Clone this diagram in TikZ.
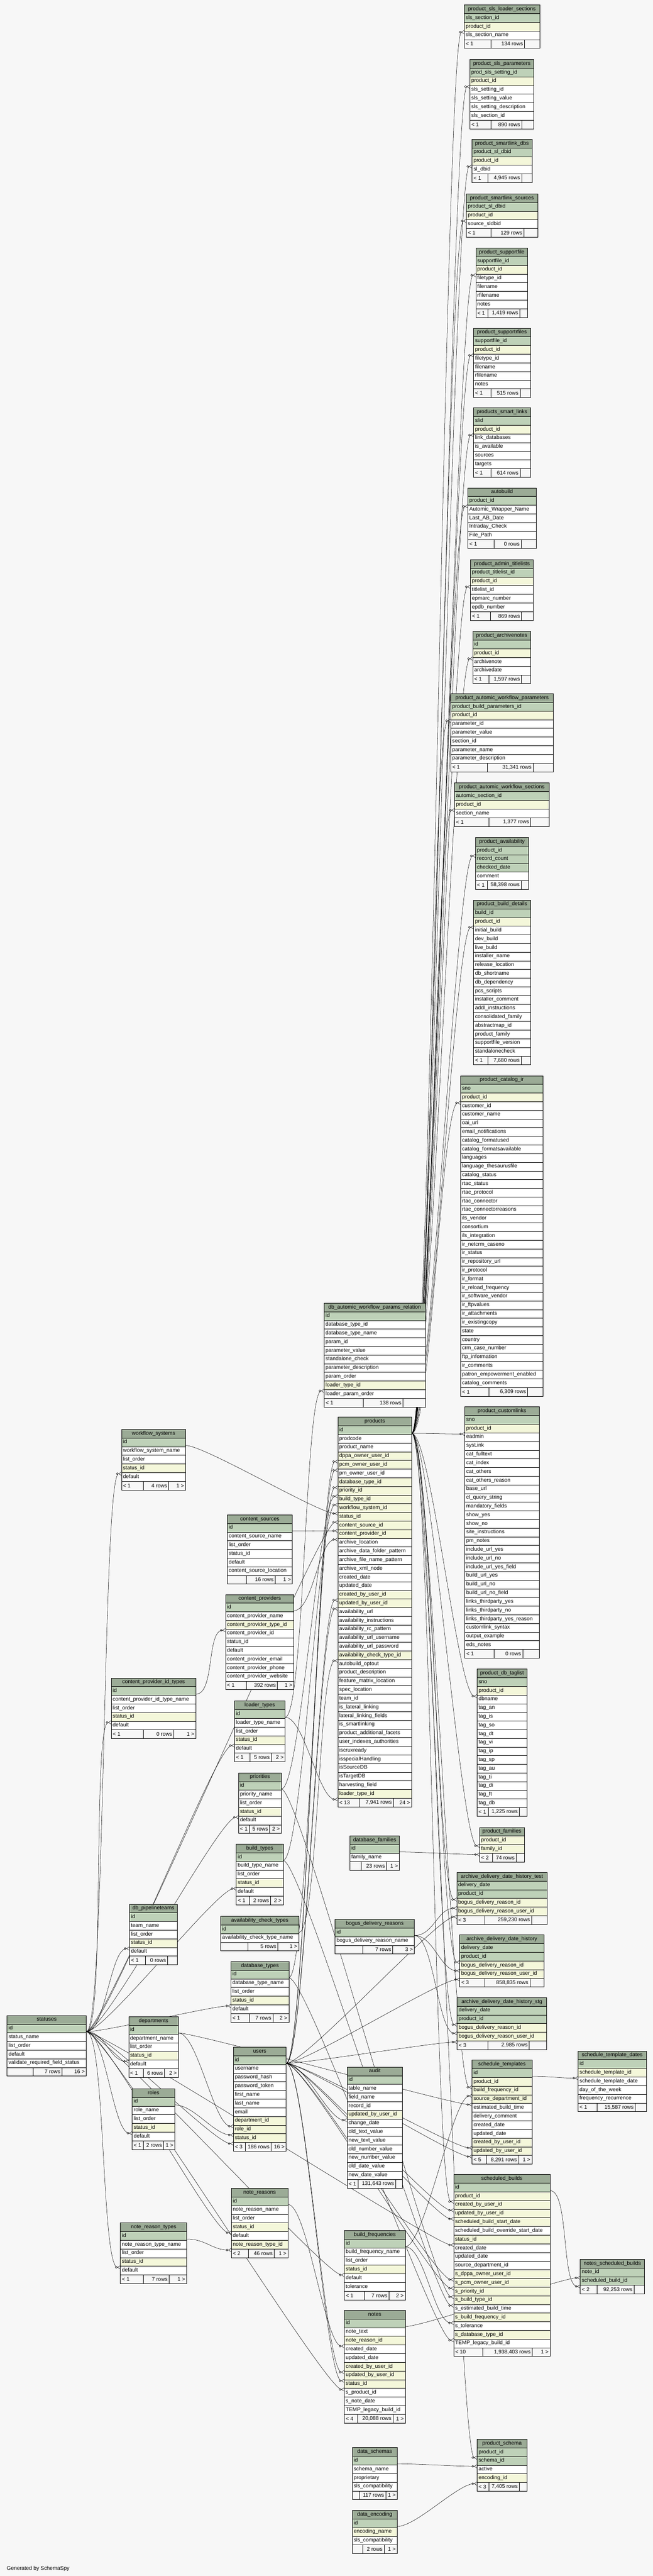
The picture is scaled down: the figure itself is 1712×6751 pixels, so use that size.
\documentclass[tikz,border=0pt]{standalone}
\usepackage{fontspec}
\setmainfont{Liberation Sans}
\usetikzlibrary{arrows.meta}

\definecolor{headgreen}{HTML}{9BAB96}
\definecolor{pkgreen}{HTML}{BED1B8}
\definecolor{idxyellow}{HTML}{F4F7DA}
\definecolor{pagegray}{HTML}{F7F7F7}

\pgfdeclarelayer{bg}
\pgfsetlayers{bg,main}

\tikzset{
  cell/.style={draw=black, line width=0.8pt, anchor=north west, outer sep=0pt,
    inner xsep=4pt, inner ysep=0pt, minimum height=22.7pt,
    text height=10pt, text depth=3.5pt, font=\fontsize{14}{16}\selectfont},
  head/.style={cell, fill=headgreen, align=center},
  pk/.style={cell, fill=pkgreen, align=left},
  fk/.style={cell, fill=idxyellow, align=left},
  col/.style={cell, fill=white, align=left},
  foot/.style={cell, fill=pagegray},
  foottext/.style={inner sep=0pt, font=\fontsize{14}{16}\selectfont},
  rel/.style={draw=black, line width=0.7pt,
    -{Circle[open,length=6pt,width=6pt] Straight Barb[reversed,length=7pt,width=9pt]}}
}

% #1 name, #2 x,y, #3 width, #4 #5 footer splits, #6 rows, #7-#9 footer texts
\newcommand{\dbtable}[9]{%
  \pgfmathsetmacro\tw{#3-8}%
  \node[head, text width=\tw pt] (#1) at (#2) {#1};
  \foreach \k/\c [count=\i] in {#6}{%
    \node[\k, text width=\tw pt] (#1-\c) at ([yshift={-\i*22.7pt}]#1.north west) {\c};
    \xdef\nrows{\i}}%
  \pgfmathsetmacro\fy{(\nrows+1)*22.7}%
  \node[foot, minimum width=#3pt] (#1-foot) at ([yshift=-\fy pt]#1.north west) {};
  \draw[line width=0.8pt] ([xshift=#4pt]#1-foot.north west) -- ([xshift=#4pt]#1-foot.south west)
    ([xshift=#5pt]#1-foot.north west) -- ([xshift=#5pt]#1-foot.south west);
  \node[foottext, anchor=west] at ([xshift=4pt]#1-foot.west) {#7};
  \node[foottext, anchor=east] at ([xshift={(#5-4)*1pt}]#1-foot.west) {#8};
  \node[foottext, anchor=east] at ([xshift=-4pt]#1-foot.east) {#9};
}

\newcommand{\fkline}[2]{%
  \draw[rel] ([yshift=3pt]#1.south east) .. controls +(50,0) and +(-50,0) .. ([yshift=-3pt]#2.south west);}

\begin{document}
\catcode`\_=12
\begin{tikzpicture}[x=1pt, y=-1pt]

\dbtable{product_sls_loader_sections}{1217,13}{198}{69.5}{158.5}
  {pk/sls_section_id, fk/product_id, col/sls_section_name}{< 1}{134 rows}{}
\dbtable{product_sls_parameters}{1231.6,156}{168}{55}{136}
  {pk/prod_sls_setting_id, fk/product_id, col/sls_setting_id, col/sls_setting_value,
   col/sls_setting_description, col/sls_section_id}{< 1}{890 rows}{}
\dbtable{product_smartlink_dbs}{1237.5,365}{157}{42}{130}
  {pk/product_sl_dbid, fk/product_id, col/sl_dbid}{< 1}{4,945 rows}{}
\dbtable{product_smartlink_sources}{1222.5,508}{187}{64}{151}
  {pk/product_sl_dbid, fk/product_id, col/source_sldbid}{< 1}{129 rows}{}
\dbtable{product_supportfile}{1247.5,650}{136}{32}{115}
  {pk/supportfile_id, fk/product_id, col/filetype_id, col/filename, col/rfilename, col/notes}{< 1}{1,419 rows}{}
\dbtable{product_supportrfiles}{1241.6,860}{149}{45}{122}
  {pk/supportfile_id, fk/product_id, col/filetype_id, col/filename, col/rfilename, col/notes}{< 1}{515 rows}{}
\dbtable{products_smart_links}{1241.6,1069}{149}{45}{122}
  {pk/slid, fk/product_id, col/link_databases, col/is_available, col/sources, col/targets}{< 1}{614 rows}{}
\dbtable{autobuild}{1226.6,1278.5}{179}{69}{140}
  {pk/product_id, col/Automic_Wrapper_Name, col/Last_AB_Date, col/Intraday_Check, col/File_Path}{< 1}{0 rows}{}
\dbtable{product_admin_titlelists}{1233.4,1466.7}{165}{53}{134}
  {pk/product_titlelist_id, fk/product_id, col/titlelist_id, col/epmarc_number, col/epdb_number}{< 1}{869 rows}{}
\dbtable{product_archivenotes}{1239.3,1655}{152}{42}{128}
  {pk/id, fk/product_id, col/archivenote, col/archivedate}{< 1}{1,597 rows}{}
\dbtable{product_automic_workflow_parameters}{1181.6,1818}{269}{96}{216}
  {pk/product_build_parameters_id, fk/product_id, col/parameter_id, col/parameter_value,
   col/section_id, col/parameter_name, col/parameter_description}{< 1}{31,341 rows}{}
\dbtable{product_automic_workflow_sections}{1191.6,2052}{248}{90}{200}
  {pk/automic_section_id, fk/product_id, col/section_name}{< 1}{1,377 rows}{}
\dbtable{product_availability}{1246.6,2194.7}{139}{31}{120}
  {pk/product_id, pk/record_count, pk/checked_date, col/comment}{< 1}{58,398 rows}{}
\dbtable{product_build_details}{1241.6,2359}{149}{38}{125}
  {pk/build_id, fk/product_id, col/initial_build, col/dev_build, col/live_build, col/installer_name,
   col/release_location, col/db_shortname, col/db_dependency, col/pcs_scripts, col/installer_comment,
   col/addl_instructions, col/consolidated_family, col/abstractmap_id, col/product_family,
   col/supportfile_version, col/standalonecheck}{< 1}{7,680 rows}{}
\dbtable{product_catalog_ir}{1207.5,2819}{216}{74}{176}
  {pk/sno, fk/product_id, col/customer_id, col/customer_name, col/oai_url, col/email_notifications,
   col/catalog_formatused, col/catalog_formatsavailable, col/languages, col/language_thesaurusfile,
   col/catalog_status, col/rtac_status, col/rtac_protocol, col/rtac_connector, col/rtac_connectorreasons,
   col/ils_vendor, col/consortium, col/ils_integration, col/ir_netcrm_caseno, col/ir_status,
   col/ir_repository_url, col/ir_protocol, col/ir_format, col/ir_reload_frequency, col/ir_software_vendor,
   col/ir_ftpvalues, col/ir_attachments, col/ir_existingcopy, col/state, col/country, col/crm_case_number,
   col/ftp_information, col/ir_comments, col/patron_empowerment_enabled, col/catalog_comments}{< 1}{6,309 rows}{}
\dbtable{product_customlinks}{1218.4,3687}{195}{77}{152}
  {pk/sno, fk/product_id, col/eadmin, col/sysLink, col/cat_fulltext, col/cat_index, col/cat_others,
   col/cat_others_reason, col/base_url, col/cl_query_string, col/mandatory_fields, col/show_yes, col/show_no,
   col/site_instructions, col/pm_notes, col/include_url_yes, col/include_url_no, col/include_url_yes_field,
   col/build_url_yes, col/build_url_no, col/build_url_no_field, col/links_thirdparty_yes,
   col/links_thirdparty_no, col/links_thirdparty_yes_reason, col/customlink_syntax, col/output_example,
   col/eds_notes}{< 1}{0 rows}{}
\dbtable{product_db_taglist}{1250.7,4374}{131}{29}{111}
  {pk/sno, fk/product_id, col/dbname, col/tag_an, col/tag_is, col/tag_so, col/tag_dt, col/tag_vi, col/tag_ip,
   col/tag_sp, col/tag_au, col/tag_ti, col/tag_di, col/tag_ft, col/tag_db}{< 1}{1,225 rows}{}
\dbtable{product_families}{1257.5,4789}{117}{33}{96}
  {fk/product_id, fk/family_id}{< 2}{74 rows}{}
\dbtable{archive_delivery_date_history_test}{1197.5,4907}{237}{73}{196}
  {pk/delivery_date, pk/product_id, fk/bogus_delivery_reason_id, fk/bogus_delivery_reason_user_id}{< 3}{259,230 rows}{}
\dbtable{archive_delivery_date_history}{1205.3,5071}{221}{66}{184}
  {pk/delivery_date, pk/product_id, fk/bogus_delivery_reason_id, fk/bogus_delivery_reason_user_id}{< 3}{858,835 rows}{}
\dbtable{archive_delivery_date_history_stg}{1198.4,5235}{235}{81}{189}
  {pk/delivery_date, pk/product_id, fk/bogus_delivery_reason_id, fk/bogus_delivery_reason_user_id}{< 3}{2,985 rows}{}
\dbtable{schedule_template_dates}{1515.4,5375}{179}{50}{150}
  {pk/id, fk/schedule_template_id, col/schedule_template_date, col/day_of_the_week,
   col/frequency_recurrence}{< 1}{15,587 rows}{}
\dbtable{schedule_templates}{1237.5,5399}{157}{37}{122}
  {pk/id, fk/product_id, fk/build_frequency_id, fk/source_department_id, col/estimated_build_time,
   col/delivery_comment, col/created_date, col/updated_date, fk/created_by_user_id,
   fk/updated_by_user_id}{< 5}{8,291 rows}{1 >}
\dbtable{scheduled_builds}{1189.4,5698.7}{253}{76}{206}
  {pk/id, fk/product_id, fk/created_by_user_id, fk/updated_by_user_id, fk/scheduled_build_start_date,
   col/scheduled_build_override_start_date, fk/status_id, col/created_date, col/updated_date,
   col/source_department_id, fk/s_dppa_owner_user_id, fk/s_pcm_owner_user_id, fk/s_priority_id,
   fk/s_build_type_id, col/s_estimated_build_time, fk/s_build_frequency_id, col/s_tolerance,
   fk/s_database_type_id, col/TEMP_legacy_build_id}{< 10}{1,938,403 rows}{1 >}
\dbtable{notes_scheduled_builds}{1521.3,5921}{168}{44}{141}
  {pk/note_id, pk/scheduled_build_id}{< 2}{92,253 rows}{}
\dbtable{product_schema}{1250.7,6392.4}{131}{31}{111}
  {pk/product_id, pk/schema_id, col/active, fk/encoding_id}{< 3}{7,405 rows}{}

\dbtable{db_automic_workflow_params_relation}{849.6,3415}{265.4}{103}{207}
  {pk/id, col/database_type_id, col/database_type_name, col/param_id, col/parameter_value,
   col/standalone_check, col/parameter_description, col/param_order, fk/loader_type_id,
   col/loader_param_order}{< 1}{138 rows}{}
\dbtable{products}{885.5,3713.8}{194}{56}{146}
  {pk/id, col/prodcode, col/product_name, fk/dppa_owner_user_id, fk/pcm_owner_user_id, col/pm_owner_user_id,
   fk/database_type_id, fk/priority_id, fk/build_type_id, fk/workflow_system_id, fk/status_id,
   fk/content_source_id, fk/content_provider_id, col/archive_location, col/archive_data_folder_pattern,
   col/archive_file_name_pattern, col/archive_xml_node, col/created_date, col/updated_date,
   fk/created_by_user_id, fk/updated_by_user_id, col/availability_url, col/availability_instructions,
   col/availability_rc_pattern, col/availability_url_username, col/availability_url_password,
   fk/availability_check_type_id, col/autobuild_optout, col/product_description,
   col/feature_matrix_location, col/spec_location, col/team_id, col/is_lateral_linking,
   col/lateral_linking_fields, col/is_smartlinking, col/product_additional_facets,
   col/user_indexes_authorities, col/iscruxready, col/isspecialHandling, col/isSourceDB, col/isTargetDB,
   col/harvesting_field, fk/loader_type_id}{< 13}{7,941 rows}{24 >}
\dbtable{workflow_systems}{318.4,3745.7}{168.3}{57}{124}
  {pk/id, col/workflow_system_name, col/list_order, fk/status_id, col/default}{< 1}{4 rows}{1 >}
\dbtable{content_sources}{595.6,3969.8}{171}{50}{126}
  {pk/id, col/content_source_name, col/list_order, col/status_id, col/default,
   col/content_source_location}{}{16 rows}{1 >}
\dbtable{content_providers}{591.2,4178.6}{179.4}{55}{136}
  {pk/id, col/content_provider_name, fk/content_provider_type_id, col/content_provider_id, col/status_id,
   col/default, col/content_provider_email, col/content_provider_phone,
   col/content_provider_website}{< 1}{392 rows}{1 >}
\dbtable{content_provider_id_types}{291.6,4397.4}{222}{84}{164}
  {pk/id, col/content_provider_id_type_name, col/list_order, fk/status_id, col/default}{< 1}{0 rows}{1 >}
\dbtable{loader_types}{614.6,4458}{133}{40}{97}
  {pk/id, col/loader_type_name, col/list_order, fk/status_id, col/default}{< 1}{5 rows}{2 >}
\dbtable{priorities}{625.2,4646}{112.5}{29}{82}
  {pk/id, col/priority_name, col/list_order, fk/status_id, col/default}{< 1}{5 rows}{2 >}
\dbtable{build_types}{619.4,4833}{123}{34}{90}
  {pk/id, col/build_type_name, col/list_order, fk/status_id, col/default}{< 1}{2 rows}{2 >}
\dbtable{availability_check_types}{578.5,5022}{205}{71}{150}
  {pk/id, col/availability_check_type_name}{}{5 rows}{1 >}
\dbtable{database_types}{605.4,5140.5}{152}{49}{110}
  {pk/id, col/database_type_name, col/list_order, fk/status_id, col/default}{< 1}{7 rows}{2 >}
\dbtable{users}{611.7,5365}{138.6}{31.5}{99}
  {pk/id, col/username, col/password_hash, col/password_token, col/first_name, col/last_name, col/email,
   fk/department_id, fk/role_id, fk/status_id}{< 3}{186 rows}{16 >}
\dbtable{statuses}{18.4,5282}{208}{68}{144}
  {pk/id, col/status_name, col/list_order, col/default, col/validate_required_field_status}{}{7 rows}{16 >}
\dbtable{db_pipelineteams}{339.3,4990}{126}{42}{100}
  {pk/id, col/team_name, col/list_order, fk/status_id, col/default}{< 1}{0 rows}{}
\dbtable{departments}{337.3,5285.5}{130.4}{38}{94}
  {pk/id, col/department_name, col/list_order, fk/status_id, col/default}{< 1}{6 rows}{2 >}
\dbtable{roles}{346.5,5474}{112}{29}{82.5}
  {pk/id, col/role_name, col/list_order, fk/status_id, col/default}{< 1}{2 rows}{1 >}
\dbtable{note_reasons}{606.3,5734.8}{148.7}{44.5}{112.5}
  {pk/id, col/note_reason_name, col/list_order, fk/status_id, col/default, fk/note_reason_type_id}{< 2}{46 rows}{1 >}
\dbtable{note_reason_types}{315.6,5825.5}{174}{60}{128}
  {pk/id, col/note_reason_type_name, col/list_order, fk/status_id, col/default}{< 1}{7 rows}{1 >}
\dbtable{database_families}{917.4,4811}{130}{29}{96}
  {pk/id, col/family_name}{}{23 rows}{1 >}
\dbtable{bogus_delivery_reasons}{878.6,5030}{208}{72}{151}
  {pk/id, col/bogus_delivery_reason_name}{}{7 rows}{3 >}
\dbtable{audit}{909.8,5417}{145.6}{28.6}{127.5}
  {pk/id, col/table_name, col/field_name, col/record_id, fk/updated_by_user_id, col/change_date,
   col/old_text_value, col/new_text_value, col/old_number_value, col/new_number_value,
   col/old_date_value, col/new_date_value}{< 1}{131,643 rows}{}
\dbtable{build_frequencies}{902.5,5845.5}{160}{53}{117}
  {pk/id, col/build_frequency_name, col/list_order, fk/status_id, col/default, col/tolerance}{< 1}{7 rows}{2 >}
\dbtable{notes}{902.5,6054.7}{160}{35}{128}
  {pk/id, col/note_text, fk/note_reason_id, col/created_date, col/updated_date, fk/created_by_user_id,
   fk/updated_by_user_id, fk/status_id, col/s_product_id, col/s_note_date,
   col/TEMP_legacy_build_id}{< 4}{20,088 rows}{1 >}
\dbtable{data_schemas}{923.3,6414.4}{118}{20}{88}
  {pk/id, col/schema_name, col/proprietary, col/sls_compatibility}{}{117 rows}{1 >}
\dbtable{data_encoding}{923.3,6578.7}{118}{27}{84}
  {pk/id, fk/encoding_name, col/sls_compatibility}{}{2 rows}{1 >}

\node[foottext, anchor=base west] (credit) at (17.6,6736) {Generated by SchemaSpy};

\begin{pgfonlayer}{bg}
  \fill[pagegray] (0,0) rectangle (1712,6751);
  \foreach \c in {product_sls_loader_sections, product_sls_parameters, product_smartlink_dbs,
      product_smartlink_sources, product_supportfile, product_supportrfiles, products_smart_links,
      autobuild, product_admin_titlelists, product_archivenotes, product_automic_workflow_parameters,
      product_automic_workflow_sections, product_availability, product_build_details,
      product_catalog_ir, product_customlinks, product_db_taglist, product_families,
      archive_delivery_date_history_test, archive_delivery_date_history,
      archive_delivery_date_history_stg, schedule_templates, scheduled_builds, product_schema}
    {\fkline{products-id}{\c-product_id}}
  \foreach \c in {workflow_systems, content_provider_id_types, loader_types, priorities, build_types,
      db_pipelineteams, database_types, departments, roles, users, note_reasons, note_reason_types,
      build_frequencies, products, notes, scheduled_builds}
    {\fkline{statuses-id}{\c-status_id}}
  \foreach \c in {products-dppa_owner_user_id, products-pcm_owner_user_id, products-created_by_user_id,
      products-updated_by_user_id, audit-updated_by_user_id, schedule_templates-created_by_user_id,
      schedule_templates-updated_by_user_id, scheduled_builds-created_by_user_id,
      scheduled_builds-updated_by_user_id, scheduled_builds-s_dppa_owner_user_id,
      scheduled_builds-s_pcm_owner_user_id, notes-created_by_user_id, notes-updated_by_user_id,
      archive_delivery_date_history_test-bogus_delivery_reason_user_id,
      archive_delivery_date_history-bogus_delivery_reason_user_id,
      archive_delivery_date_history_stg-bogus_delivery_reason_user_id}
    {\fkline{users-id}{\c}}
  \foreach \a/\b in {departments/users-department_id, departments/schedule_templates-source_department_id,
      roles/users-role_id, workflow_systems/products-workflow_system_id,
      content_sources/products-content_source_id, content_providers/products-content_provider_id,
      content_provider_id_types/content_providers-content_provider_type_id,
      loader_types/products-loader_type_id, loader_types/db_automic_workflow_params_relation-loader_type_id,
      priorities/products-priority_id, priorities/scheduled_builds-s_priority_id,
      build_types/products-build_type_id, build_types/scheduled_builds-s_build_type_id,
      availability_check_types/products-availability_check_type_id,
      database_types/products-database_type_id, database_types/scheduled_builds-s_database_type_id,
      database_families/product_families-family_id,
      bogus_delivery_reasons/archive_delivery_date_history_test-bogus_delivery_reason_id,
      bogus_delivery_reasons/archive_delivery_date_history-bogus_delivery_reason_id,
      bogus_delivery_reasons/archive_delivery_date_history_stg-bogus_delivery_reason_id,
      build_frequencies/schedule_templates-build_frequency_id,
      build_frequencies/scheduled_builds-s_build_frequency_id,
      note_reasons/notes-note_reason_id, note_reason_types/note_reasons-note_reason_type_id,
      notes/notes_scheduled_builds-note_id, scheduled_builds/notes_scheduled_builds-scheduled_build_id,
      schedule_templates/schedule_template_dates-schedule_template_id,
      data_schemas/product_schema-schema_id, data_encoding/product_schema-encoding_id}
    {\fkline{\a-id}{\b}}
\end{pgfonlayer}

\end{tikzpicture}
\end{document}
